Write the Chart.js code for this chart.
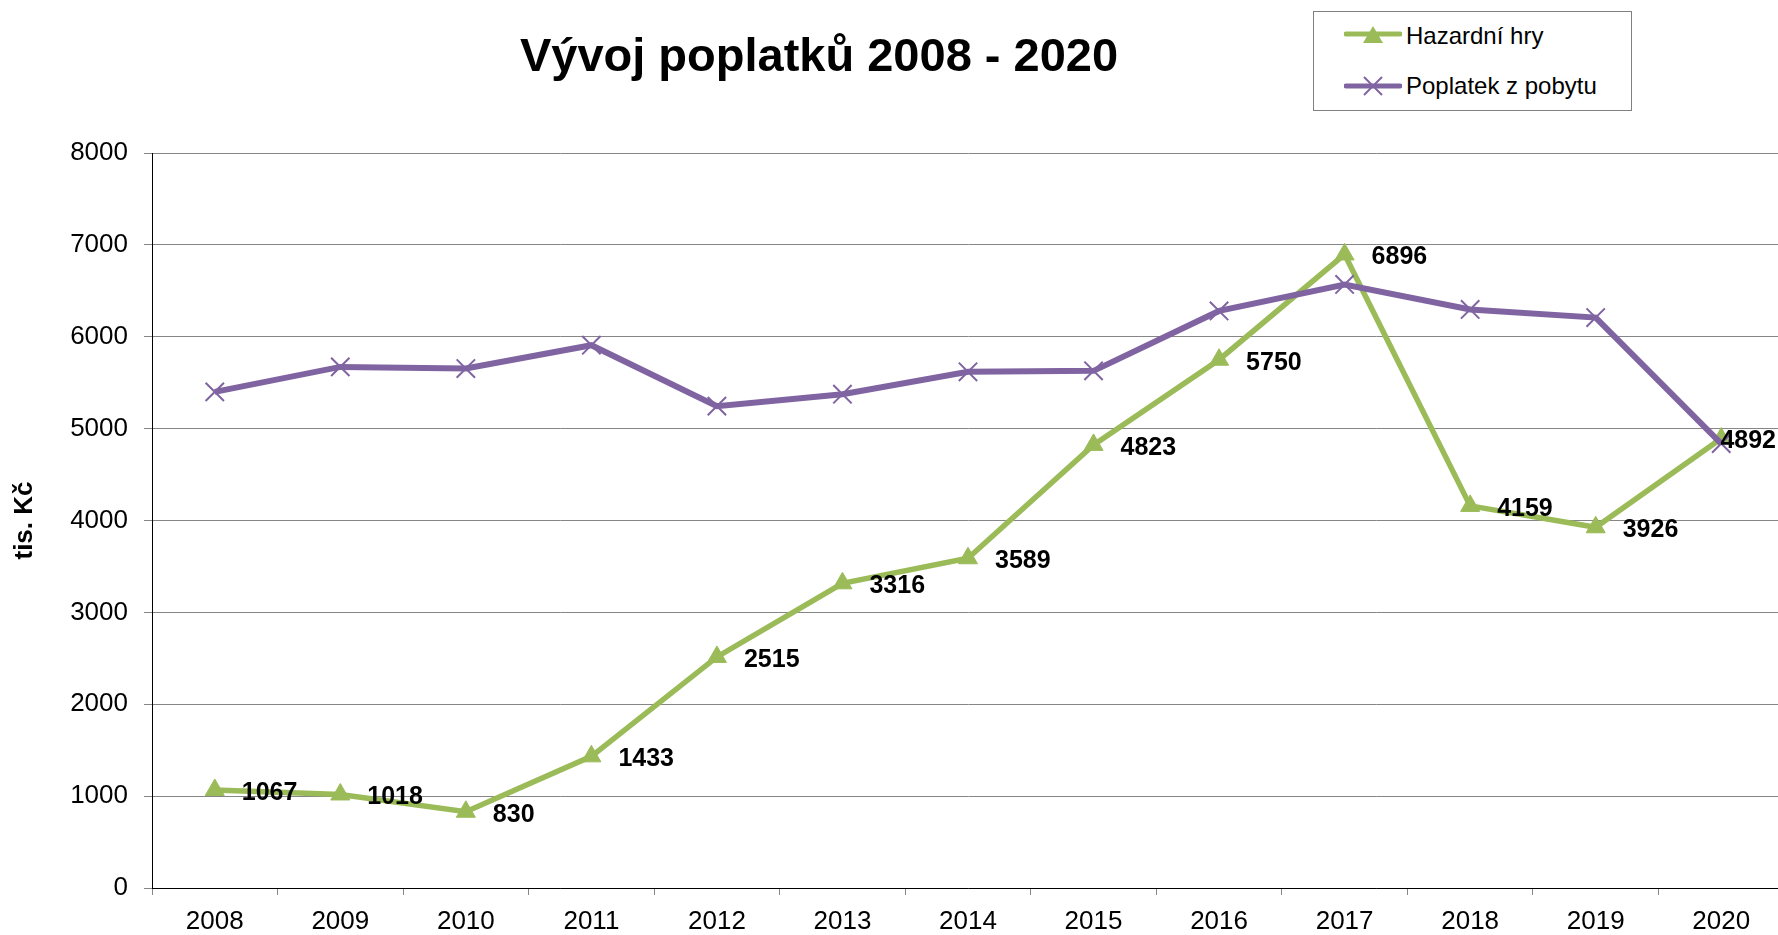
<!DOCTYPE html>
<html>
<head>
<meta charset="utf-8">
<script src="https://cdn.jsdelivr.net/npm/chart.js@4/dist/chart.umd.min.js"></script>
<style>
  html, body { margin: 0; padding: 0; overflow: hidden; background: #fff; width: 1778px; height: 935px; }
  #wrap { position: absolute; left: 0; top: 0; width: 1784px; height: 935px; }
  #c { display: block; width: 1784px; height: 935px; }
  #title { position: absolute; top: 31px; left: 819px; transform: translateX(-50%); white-space: nowrap;
           font-family: "Liberation Sans", Arial, sans-serif; font-weight: bold; font-size: 47px; line-height: 1; color: #000; }
  #legend { position: absolute; left: 1313px; top: 11px; width: 317px; height: 98px; border: 1px solid #808080; background: #fff; }
  .item { position: absolute; left: 0; height: 30px; width: 317px; }
  .item svg { position: absolute; left: 30px; top: 0; }
  .item span { position: absolute; left: 92px; top: 0; font-family: "Liberation Sans", Arial, sans-serif; font-size: 24px; line-height: 1; color: #000; white-space: nowrap; }
</style>
</head>
<body>
<div id="wrap"><canvas id="c" width="1784" height="935"></canvas></div>
<div id="title">Vývoj poplatků 2008 - 2020</div>
<div id="legend"></div>
<script>
const categories = ['2008','2009','2010','2011','2012','2013','2014','2015','2016','2017','2018','2019','2020'];
const hazardniHry = [1067, 1018, 830, 1433, 2515, 3316, 3589, 4823, 5750, 6896, 4159, 3926, 4892];
const poplatekZPobytu = [5400, 5672, 5654, 5908, 5245, 5375, 5618, 5629, 6281, 6569, 6297, 6209, 4838];
const seriesNames = ['Hazardní hry', 'Poplatek z pobytu'];
const chartTitle = 'Vývoj poplatků 2008 - 2020';
const yAxisTitle = 'tis. Kč';
const yTicks = { min: 0, max: 8000, step: 1000 };

const GREEN = '#9BBB59';
const PURPLE = '#8064A2';
const FONT = '"Liberation Sans", Arial, sans-serif';

document.getElementById('title').textContent = chartTitle;

// Legend (HTML overlay)
const legend = document.getElementById('legend');
function legendItem(name, color, marker, capCenter) {
  const d = document.createElement('div');
  d.className = 'item';
  d.style.top = (capCenter - 15) + 'px';
  let m;
  if (marker === 'triangle') {
    m = `<polygon points="29,5 39,22 19,22" fill="${color}"/>`;
  } else {
    m = `<path d="M20,6 L38,24 M38,6 L20,24" stroke="${color}" stroke-width="2"/>`;
  }
  const ly = marker === 'triangle' ? 13 : 15;
  d.innerHTML = `<svg width="58" height="30" viewBox="0 0 58 30"><line x1="2" y1="${ly}" x2="56" y2="${ly}" stroke="${color}" stroke-width="5" stroke-linecap="round"/>${m}</svg><span style="top:${15-11.7}px">${name}</span>`;
  legend.appendChild(d);
}
legendItem(seriesNames[0], GREEN, 'triangle', 24);
legendItem(seriesNames[1], PURPLE, 'x', 74);

const labelPlugin = {
  id: 'valueLabels',
  afterDatasetsDraw(chart) {
    const meta = chart.getDatasetMeta(0);
    const ctx = chart.ctx;
    ctx.save();
    ctx.font = 'bold 25px ' + FONT;
    ctx.fillStyle = '#000';
    ctx.textBaseline = 'middle';
    ctx.textAlign = 'left';
    const limit = 1776;
    meta.data.forEach((pt, i) => {
      const txt = String(hazardniHry[i]);
      const w = ctx.measureText(txt).width;
      let x = pt.x + 27;
      if (x + w > limit) x = limit - w;
      ctx.fillText(txt, x, pt.y + 3);
    });
    ctx.restore();
  }
};

new Chart(document.getElementById('c'), {
  type: 'line',
  data: {
    labels: categories,
    datasets: [
      {
        label: seriesNames[0], data: hazardniHry, borderColor: GREEN, backgroundColor: GREEN,
        borderWidth: 5.5, pointStyle: 'triangle', pointRadius: 11, pointBorderWidth: 1,
        pointBackgroundColor: GREEN, pointBorderColor: GREEN, tension: 0, order: 2
      },
      {
        label: seriesNames[1], data: poplatekZPobytu, borderColor: PURPLE, backgroundColor: PURPLE,
        borderWidth: 6, pointStyle: 'crossRot', pointRadius: 13, pointBorderWidth: 2,
        pointBorderColor: PURPLE, tension: 0, order: 1
      }
    ]
  },
  options: {
    responsive: false,
    maintainAspectRatio: false,
    animation: false,
    devicePixelRatio: 1,
    layout: { autoPadding: false, padding: { top: 153, left: 0, right: 0, bottom: 0 } },
    plugins: { legend: { display: false }, tooltip: { enabled: false }, title: { display: false } },
    scales: {
      x: {
        offset: true,
        grid: { display: true, drawOnChartArea: false, drawTicks: true, tickLength: 7, color: '#868686', offset: true },
        border: { display: true, color: '#000', width: 1 },
        ticks: { color: '#000', font: { family: FONT, size: 26 }, padding: 11, maxRotation: 0, autoSkip: false },
        afterFit(s) { s.height = 47; }
      },
      y: {
        min: yTicks.min, max: yTicks.max,
        grid: { color: '#868686', lineWidth: 1, tickLength: 8, drawTicks: true },
        border: { display: true, color: '#000', width: 1 },
        ticks: { stepSize: yTicks.step, color: '#000', font: { family: FONT, size: 26 }, padding: 16,
                 callback: (v) => String(v) },
        title: { display: true, text: yAxisTitle, color: '#000', font: { family: FONT, size: 26, weight: 'bold' }, padding: { top: 9, bottom: 0 } },
        afterFit(s) { s.width = 152; }
      }
    }
  },
  plugins: [labelPlugin]
});
</script>
</body>
</html>
